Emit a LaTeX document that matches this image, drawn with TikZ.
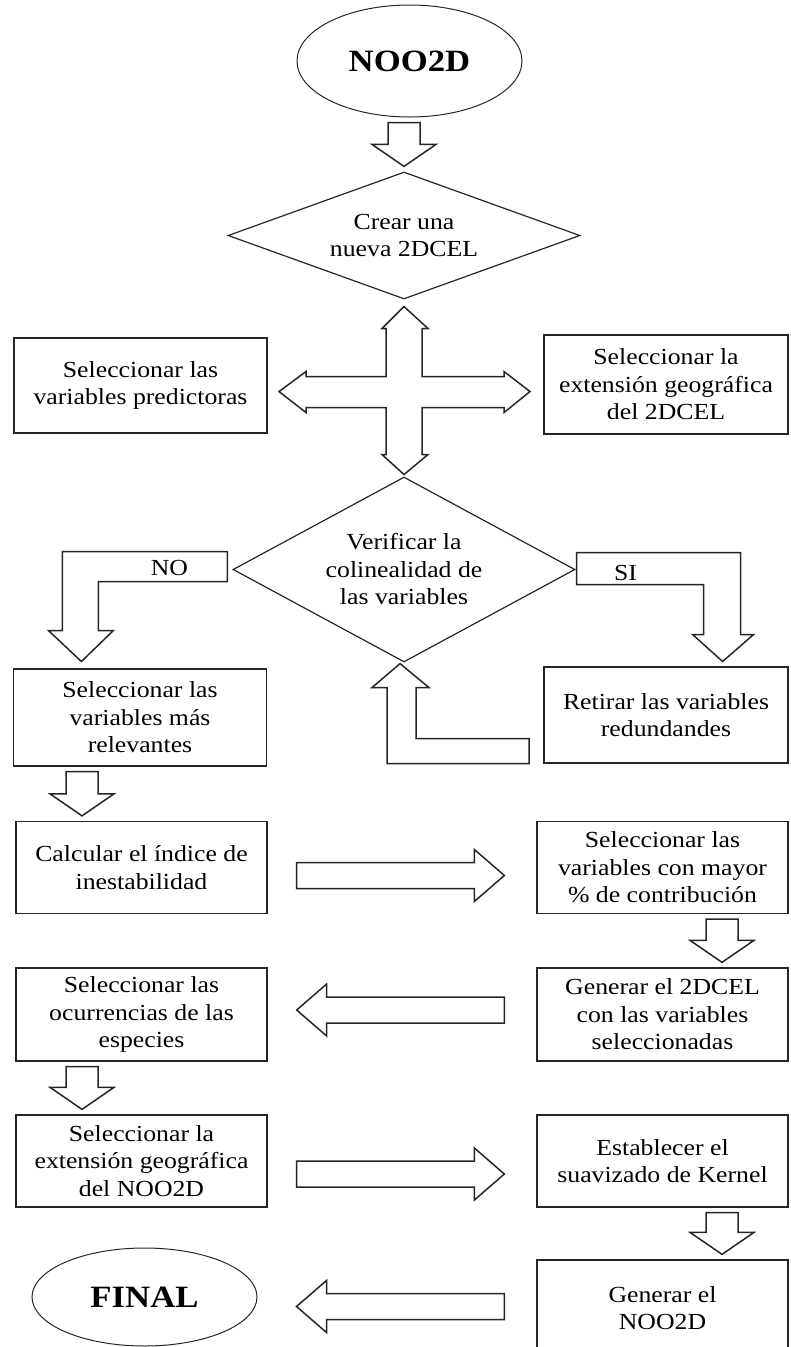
\documentclass[tikz,border=0pt]{standalone}
\usepackage{fontspec}
\setmainfont{Liberation Serif}[FakeStretch=1.12]
\usetikzlibrary{shapes.geometric,calc}

\newcommand\flowfont{\fontsize{23}{27.5}\selectfont}
\newcommand\titlefont{\fontsize{31}{36}\selectfont\bfseries}

% block arrow going down: x, upper node, lower node
\newcommand\blkdown[3]{%
  \draw[blk] let \p1=(#2.south), \p2=(#3.north) in
    (#1pt-16pt,\y1-5pt) -- (#1pt+16pt,\y1-5pt) -- (#1pt+16pt,\y2+27pt)
    -- (#1pt+32pt,\y2+27pt) -- (#1pt,\y2+5pt) -- (#1pt-32pt,\y2+27pt)
    -- (#1pt-16pt,\y2+27pt) -- cycle;}
% block arrow going right: y, left node, right node
\newcommand\blkright[3]{%
  \draw[blk] let \p1=(#2.east), \p2=(#3.west) in
    (\x1+29pt,-#1pt+13pt) -- (\x2-62pt,-#1pt+13pt) -- (\x2-62pt,-#1pt+26pt)
    -- (\x2-32pt,-#1pt) -- (\x2-62pt,-#1pt-26pt) -- (\x2-62pt,-#1pt-13pt)
    -- (\x1+29pt,-#1pt-13pt) -- cycle;}
% block arrow going left: [gap], y, right node, left node
\newcommand\blkleft[4][29]{%
  \draw[blk] let \p1=(#3.west), \p2=(#4.east) in
    (\x1-32pt,-#2pt+13pt) -- (\x2+#1pt+30pt,-#2pt+13pt) -- (\x2+#1pt+30pt,-#2pt+26pt)
    -- (\x2+#1pt,-#2pt) -- (\x2+#1pt+30pt,-#2pt-26pt) -- (\x2+#1pt+30pt,-#2pt-13pt)
    -- (\x1-32pt,-#2pt-13pt) -- cycle;}

\begin{document}
\begin{tikzpicture}[x=1pt,y=-1pt,
  box/.style={draw=black!85, line width=1.3pt, align=center, inner sep=0pt,
    minimum width=251pt, minimum height=92pt, font=\flowfont},
  decision/.style={diamond, draw=black!85, line width=1.2pt, align=center,
    inner sep=0pt, font=\flowfont},
  terminal/.style={ellipse, draw=black!85, line width=1pt, inner sep=0pt,
    minimum width=225pt, font=\titlefont},
  blk/.style={draw=black!85, line width=1.5pt, line join=miter},
  flowlabel/.style={font=\flowfont}]

\useasboundingbox (0,0) rectangle (790,1347);

% nodes
\node[terminal, minimum height=112pt] (noo) at (409.5,61) {NOO2D};
\node[decision, aspect=2.77, minimum width=352pt, minimum height=127pt] (crear) at (404,235.5) {Crear una\\nueva 2DCEL};

\node[box, minimum width=253pt, minimum height=95pt] (predict) at (140.5,385.5) {Seleccionar las\\variables predictoras};
\node[box, minimum width=244pt, minimum height=99pt] (extension) at (666,384.5) {Seleccionar la\\extensión geográfica\\del 2DCEL};

\node[decision, aspect=1.85, minimum width=342pt, minimum height=185pt] (verif) at (404,569.5) {Verificar la\\colinealidad de\\las variables};

\node[box, minimum width=253pt, minimum height=97pt] (relev) at (140,717.5) {Seleccionar las\\variables más\\relevantes};
\node[box, minimum width=244pt, minimum height=96pt] (retirar) at (666,715) {Retirar las variables\\redundandes};

\node[box] (indice) at (141.5,867.5) {Calcular el índice de\\inestabilidad};
\node[box] (contrib) at (662.5,867.5) {Seleccionar las\\variables con mayor\\\% de contribución};

\node[box, minimum height=93pt] (ocurr) at (141.5,1014.5) {Seleccionar las\\ocurrencias de las\\especies};
\node[box, minimum height=93pt] (generar) at (662.5,1014.5) {Generar el 2DCEL\\con las variables\\seleccionadas};

\node[box] (extnoo) at (141.5,1161) {Seleccionar la\\extensión geográfica\\del NOO2D};
\node[box] (kernel) at (662.5,1161) {Establecer el\\suavizado de Kernel};

\node[terminal, minimum height=98pt] (final) at (144.5,1297) {FINAL};
\node[box, minimum height=96pt] (gennoo) at (662.5,1308) {Generar el\\NOO2D};

% cross arrow between the two decisions
\coordinate (hub) at ($(crear.south)!0.52!(verif.north)$);
\draw[blk, shift={(hub)}] (0,-85) -- (24,-63) -- (18,-63) -- (18,-15) -- (100,-15)
  -- (100,-20) -- (126,0) -- (100,21) -- (100,16) -- (18,16) -- (18,63) -- (24,63)
  -- (0,83) -- (-22,63) -- (-18,63) -- (-18,16) -- (-98,16) -- (-98,21) -- (-125,0)
  -- (-98,-20) -- (-98,-15) -- (-18,-15) -- (-18,-63) -- (-22,-63) -- cycle;

% NO branch
\draw[blk, shift={(verif.west)}] (-5,-18) -- (-170,-18) -- (-170,61) -- (-184,61)
  -- (-151,92) -- (-119,61) -- (-134,61) -- (-134,12) -- (-5,12) -- cycle;
\node[flowlabel] (nolab) at ([shift={(-63,-2)}]verif.west) {NO};

% SI branch
\draw[blk, shift={(verif.east)}] (1,-17) -- (165,-17) -- (165,65) -- (178,65)
  -- (147,92) -- (117,65) -- (128,65) -- (128,15) -- (1,15) -- cycle;
\node[flowlabel] (silab) at ([shift={(50,3)}]verif.east) {SI};

% back to the decision
\draw[blk, shift={(verif.south)}] (-4,1) -- (25,25) -- (12,25) -- (12,76) -- (125,76)
  -- (125,101) -- (-17,101) -- (-17,25) -- (-32,25) -- cycle;

% straight arrows
\blkdown{404}{noo}{crear}
\blkdown{82}{relev}{indice}
\blkright{875.5}{indice}{contrib}
\blkdown{722}{contrib}{generar}
\blkleft{1010}{generar}{ocurr}
\blkdown{82}{ocurr}{extnoo}
\blkright{1174}{extnoo}{kernel}
\blkdown{722}{kernel}{gennoo}
\blkleft[39]{1306.5}{gennoo}{final}
\end{tikzpicture}
\end{document}
